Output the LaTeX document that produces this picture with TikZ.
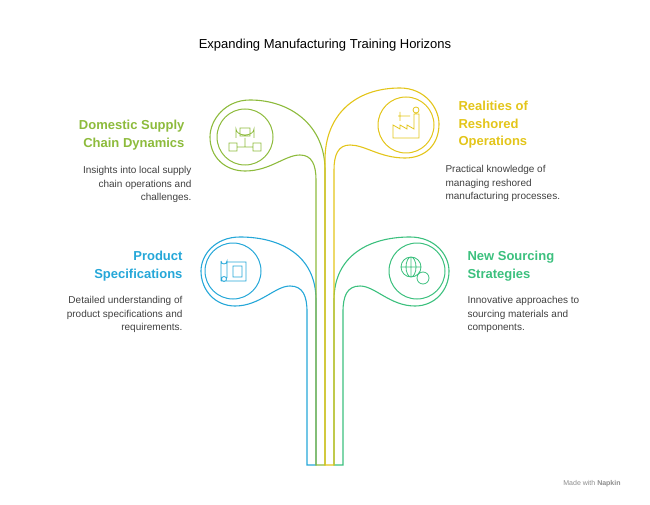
\documentclass[tikz,border=0pt]{standalone}
\usepackage{fontspec}
\setmainfont{Liberation Sans}
\usepackage{tikz}
\usetikzlibrary{positioning}
\definecolor{leafolive}{HTML}{8DBB3C}
\definecolor{leafyellow}{HTML}{E3C51A}
\definecolor{leafblue}{HTML}{25A7D8}
\definecolor{leafgreen}{HTML}{3CC07E}
\begin{document}
\begin{tikzpicture}[x=1pt, y=-1pt, line width=1.1pt,
    head/.style = {font=\bfseries\fontsize{13}{17.5}\selectfont, inner sep=0pt},
    desc/.style = {font=\fontsize{10}{13.5}\selectfont, text=black!75, inner sep=0pt},
    icon/.style = {draw, circle, minimum size=56pt, line width=1pt}]
\useasboundingbox (0,0) rectangle (650,505);
\node (title) at (325,45) {\fontsize{13}{15}\selectfont Expanding Manufacturing Training Horizons};
% leaves
\draw[leafblue] (316,465) -- (316,300) .. controls (316,255) and (280,237) .. (240,237)
  .. controls (215,237) and (201,255) .. (201,271) .. controls (201,290) and (215,306) .. (235,306)
  .. controls (260,306) and (275,286) .. (290,286) .. controls (303,286) and (307,296) .. (307,312)
  -- (307,465) -- cycle;
\draw[leafgreen] (334,465) -- (334,300) .. controls (334,255) and (370,237) .. (410,237)
  .. controls (435,237) and (449,255) .. (449,271) .. controls (449,290) and (435,306) .. (415,306)
  .. controls (390,306) and (375,286) .. (360,286) .. controls (347,286) and (343,296) .. (343,312)
  -- (343,465) -- cycle;
\draw[leafolive] (325,465) -- (325,170) .. controls (325,125) and (290,100) .. (250,100)
  .. controls (225,100) and (210,120) .. (210,137) .. controls (210,157) and (225,171) .. (245,171)
  .. controls (270,171) and (285,155) .. (300,155) .. controls (312,155) and (316,165) .. (316,180)
  -- (316,465) -- cycle;
\draw[leafyellow] (325,465) -- (325,160) .. controls (325,115) and (355,88) .. (400,88)
  .. controls (425,88) and (439,108) .. (439,124) .. controls (439,145) and (425,158) .. (405,158)
  .. controls (380,158) and (365,145) .. (350,145) .. controls (338,145) and (334,155) .. (334,170)
  -- (334,465) -- cycle;
% icons
\node[icon, leafolive] (iconsupply) at (245,137) {};
\node[icon, leafyellow] (iconreshore) at (406,125) {};
\node[icon, leafblue] (iconspec) at (233,271) {};
\node[icon, leafgreen] (iconsource) at (417,271) {};
\begin{scope}[line width=0.8pt]
\draw[leafolive] (236,138) -- (236,129) arc (180:0:9 and 6) -- (254,138) (240,128) rectangle (250,136)
  (229,143) rectangle (237,151) (253,143) rectangle (261,151) (245,138) -- (245,147) (237,147) -- (253,147);
\draw[leafyellow] (393,138) -- (393,125) -- (400,129) -- (400,125) -- (407,129) -- (407,125) -- (414,129) -- (414,114) -- (419,114) -- (419,138) -- cycle
  (398,116) -- (410,116) (400,112) -- (400,121) (416,110) circle (3);
\draw[leafblue] (221,261) -- (221,281) (221,261) arc (180:0:3) -- (227,278) (221,281) -- (246,281) -- (246,262) -- (227,262)
  (224,279) circle (2.5) (233,266) rectangle (242,277);
\draw[leafgreen] (411,267) circle (10) (401,267) -- (421,267) (411,257) -- (411,277) (411,267) ellipse (5 and 10)
  (423,278) circle (6);
\end{scope}
% texts
\node[head, text=leafolive, align=right, anchor=north east] (supplyhead) at (185,120) {Domestic Supply\\Chain Dynamics};
\node[desc, align=right, anchor=north east] (supplydesc) at (192,166) {Insights into local supply\\chain operations and\\challenges.};
\node[head, text=leafyellow, align=left, anchor=north west] (reshorehead) at (458,101) {Realities of\\Reshored\\Operations};
\node[desc, align=left, anchor=north west] (reshoredesc) at (445,165) {Practical knowledge of\\managing reshored\\manufacturing processes.};
\node[head, text=leafblue, align=right, anchor=north east] (spechead) at (183,251) {Product\\Specifications};
\node[desc, align=right, anchor=north east] (specdesc) at (183,296) {Detailed understanding of\\product specifications and\\requirements.};
\node[head, text=leafgreen, align=left, anchor=north west] (sourcehead) at (467,251) {New Sourcing\\Strategies};
\node[desc, align=left, anchor=north west] (sourcedesc) at (467,296) {Innovative approaches to\\sourcing materials and\\components.};
\node[text=black!45, font=\fontsize{7}{8}\selectfont] (napkin) at (592,484) {Made with \textbf{Napkin}};
\end{tikzpicture}
\end{document}
